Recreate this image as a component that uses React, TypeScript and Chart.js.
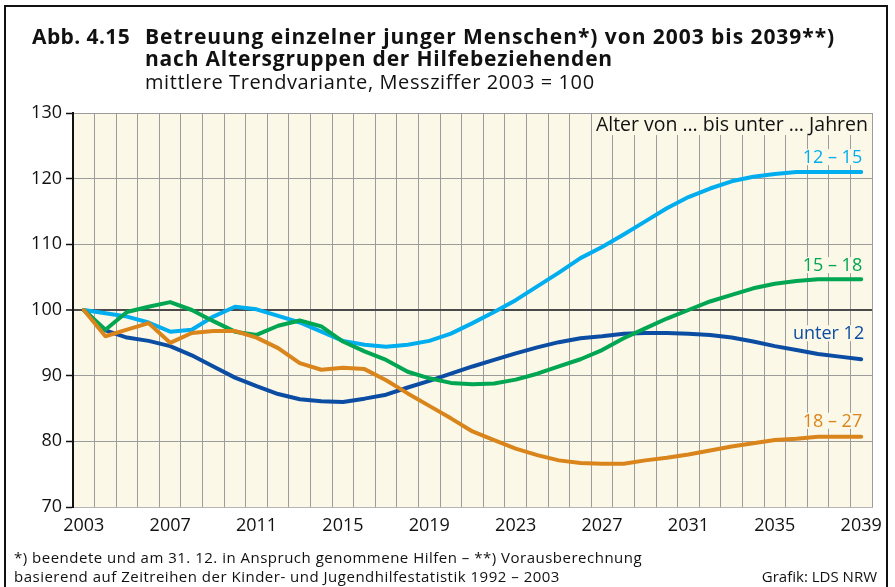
import React, { useEffect, useRef } from "react";
import { Chart, registerables } from "chart.js";

Chart.register(...registerables);

const FONT = "'Open Sans', 'Noto Sans', sans-serif";

// ---- Data ----
const years = [
  "2003", "2004", "2005", "2006", "2007", "2008", "2009", "2010", "2011", "2012",
  "2013", "2014", "2015", "2016", "2017", "2018", "2019", "2020", "2021", "2022",
  "2023", "2024", "2025", "2026", "2027", "2028", "2029", "2030", "2031", "2032",
  "2033", "2034", "2035", "2036", "2037", "2038", "2039",
];
const yTicks = [70, 80, 90, 100, 110, 120, 130];
const xTickLabels = ["2003", "2007", "2011", "2015", "2019", "2023", "2027", "2031", "2035", "2039"];

const unter12 = [
  100, 96.9, 95.8, 95.3, 94.5, 93.1, 91.4, 89.7, 88.4, 87.2,
  86.4, 86.1, 86.0, 86.5, 87.1, 88.2, 89.2, 90.3, 91.4, 92.4,
  93.4, 94.3, 95.1, 95.7, 96.0, 96.4, 96.5, 96.5, 96.4, 96.2,
  95.8, 95.2, 94.5, 93.9, 93.3, 92.9, 92.5,
];
const alter12bis15 = [
  100, 99.5, 99.0, 98.1, 96.7, 97.0, 99.0, 100.5, 100.1, 99.1,
  98.1, 96.7, 95.3, 94.7, 94.4, 94.7, 95.3, 96.4, 98.0, 99.7,
  101.5, 103.6, 105.7, 107.9, 109.6, 111.5, 113.5, 115.5, 117.2, 118.5,
  119.6, 120.3, 120.7, 121.0, 121.0, 121.0, 121.0,
];
const alter15bis18 = [
  100, 97.0, 99.7, 100.5, 101.2, 100.0, 98.3, 96.7, 96.2, 97.6,
  98.4, 97.5, 95.2, 93.7, 92.4, 90.6, 89.6, 88.9, 88.7, 88.8,
  89.4, 90.3, 91.4, 92.5, 93.9, 95.7, 97.2, 98.7, 100.0, 101.3,
  102.3, 103.3, 104.0, 104.4, 104.7, 104.7, 104.7,
];
const alter18bis27 = [
  100, 96.0, 97.0, 98.0, 95.0, 96.5, 96.8, 96.8, 95.8, 94.2,
  91.9, 90.9, 91.2, 91.0, 89.3, 87.3, 85.4, 83.5, 81.5, 80.2,
  78.9, 77.9, 77.1, 76.7, 76.6, 76.6, 77.1, 77.5, 78.0, 78.6,
  79.2, 79.7, 80.2, 80.4, 80.7, 80.7, 80.7,
];

const seriesNames = ["18 – 27", "15 – 18", "12 – 15", "unter 12"];
const legendTitle = "Alter von … bis unter … Jahren";

// ---- Styles ----
const seriesColors = ["#D9851C", "#00A651", "#00AEEF", "#0B4DA2"];
const labelLift = [10, 8, 9, 20];
const labelShiftX = [1, 1, 1, 3];
const plotBg = "#FCF8E8";

const plotBackground = {
  id: "plotBackground",
  beforeDraw(chart: any) {
    const { ctx, chartArea } = chart;
    ctx.save();
    ctx.fillStyle = plotBg;
    ctx.fillRect(chartArea.left, chartArea.top, chartArea.right - chartArea.left, chartArea.bottom - chartArea.top);
    ctx.restore();
  },
};

const seriesLabels = {
  id: "seriesLabels",
  afterDatasetsDraw(chart: any) {
    const { ctx, chartArea } = chart;
    ctx.save();
    ctx.textAlign = "right";
    ctx.textBaseline = "alphabetic";
    // legend header
    ctx.font = `19.5px ${FONT}`;
    const hx = chartArea.right - 4;
    const hy = chartArea.top + 18;
    const hw = ctx.measureText(legendTitle).width;
    ctx.fillStyle = plotBg;
    ctx.fillRect(hx - hw - 3, chartArea.top + 1, hw + 6, 21);
    ctx.fillStyle = "#111";
    ctx.fillText(legendTitle, hx, hy);

    ctx.font = `18px ${FONT}`;
    chart.data.datasets.forEach((ds: any, i: number) => {
      const meta = chart.getDatasetMeta(i);
      const pts = meta.data;
      const last = pts[pts.length - 1];
      const x = last.x + labelShiftX[i];
      const y = last.y - labelLift[i];
      const w = ctx.measureText(ds.label).width;
      ctx.fillStyle = plotBg;
      ctx.fillRect(x - w - 2, y - 14, w + 4, 16);
      ctx.fillStyle = seriesColors[i];
      ctx.fillText(ds.label, x, y);
    });
    ctx.restore();
  },
};

function ChartCanvas() {
  const ref = useRef<HTMLCanvasElement | null>(null);
  useEffect(() => {
    if (!ref.current) return;
    const series = [alter18bis27, alter15bis18, alter12bis15, unter12];
    const chart = new Chart(ref.current, {
      type: "line",
      data: {
        labels: years,
        datasets: series.map((d, i) => ({
          label: seriesNames[i],
          data: d,
          borderColor: seriesColors[i],
          backgroundColor: seriesColors[i],
          borderWidth: 4,
          pointRadius: 0,
          tension: 0,
          borderCapStyle: "round" as const,
          borderJoinStyle: "round" as const,
          fill: false,
        })),
      },
      options: {
        animation: false,
        responsive: false,
        maintainAspectRatio: false,
        layout: { padding: { left: 13, right: 23, top: 113, bottom: 50 } },
        plugins: {
          legend: { display: false },
          tooltip: { enabled: false },
          title: { display: false },
        },
        scales: {
          x: {
            type: "category",
            offset: true,
            grid: {
              offset: true,
              drawTicks: false,
              color: (c: any) => (c.index === 0 ? "rgba(0,0,0,0)" : "#9c9c9c"),
              lineWidth: 1,
            },
            border: { display: true, color: "#b5b5b5", width: 1 },
            ticks: {
              autoSkip: false,
              maxRotation: 0,
              minRotation: 0,
              padding: 8,
              color: "#111",
              font: { family: FONT, size: 18 },
              callback: (_v: any, i: number) => (xTickLabels.includes(years[i]) ? years[i] : ""),
            },
            afterFit: (s: any) => {
              s.height = 30;
            },
          },
          y: {
            min: yTicks[0],
            max: yTicks[yTicks.length - 1],
            afterBuildTicks: (s: any) => {
              s.ticks = yTicks.map((v) => ({ value: v }));
            },
            grid: {
              color: (c: any) => (c.tick && c.tick.value === 100 ? "#4a4a4a" : "#9c9c9c"),
              lineWidth: (c: any) => (c.tick && c.tick.value === 100 ? 2 : 1),
              tickLength: 7,
              tickColor: "#111",
              tickWidth: 1.5,
            },
            border: { display: true, color: "#111", width: 2 },
            ticks: {
              padding: 4,
              color: "#111",
              font: { family: FONT, size: 18 },
            },
            afterFit: (s: any) => {
              s.width = 60;
            },
          },
        },
      },
      plugins: [plotBackground, seriesLabels],
    });
    return () => chart.destroy();
  }, []);
  return (
    <canvas
      ref={ref}
      width={895}
      height={587}
      style={{ position: "absolute", left: 0, top: 0, width: 895, height: 587 }}
    />
  );
}

function Txt(props: {
  x: number;
  base: number;
  size: number;
  bold?: boolean;
  children: any;
  right?: boolean;
  spacing?: number;
}) {
  const top = props.base - props.size * 0.888;
  const style: any = {
    position: "absolute",
    top,
    fontSize: props.size,
    lineHeight: `${props.size}px`,
    fontWeight: props.bold ? 700 : 400,
    whiteSpace: "nowrap",
    letterSpacing: props.spacing ? `${props.spacing}px` : "normal",
    color: "#111",
  };
  if (props.right) style.right = 895 - props.x;
  else style.left = props.x;
  return <div style={style}>{props.children}</div>;
}

export default function App() {
  return (
    <div
      style={{
        position: "absolute",
        left: 0,
        top: 0,
        width: 895,
        height: 587,
        overflow: "hidden",
        background: "#fff",
        fontFamily: FONT,
      }}
    >
      <ChartCanvas />
      <div
        style={{
          position: "absolute",
          left: 4,
          top: 5,
          width: 880,
          height: 620,
          border: "2px solid #111",
          pointerEvents: "none",
        }}
      />
      <Txt x={32} base={45} size={21} bold spacing={0.4}>
        Abb. 4.15
      </Txt>
      <Txt x={145} base={45} size={21} bold spacing={0.95}>
        Betreuung einzelner junger Menschen*) von 2003 bis 2039**)
      </Txt>
      <Txt x={145} base={67} size={21} bold spacing={0.8}>
        nach Altersgruppen der Hilfebeziehenden
      </Txt>
      <Txt x={145} base={90} size={20} spacing={0.6}>
        mittlere Trendvariante, Messziffer 2003 = 100
      </Txt>
      <Txt x={14} base={563} size={15} spacing={0.5}>
        *) beendete und am 31. 12. in Anspruch genommene Hilfen – **) Vorausberechnung
      </Txt>
      <Txt x={14} base={582} size={15} spacing={0.5}>
        basierend auf Zeitreihen der Kinder- und Jugendhilfestatistik 1992 – 2003
      </Txt>
      <Txt x={877} base={582} size={15} right>
        Grafik: LDS NRW
      </Txt>
    </div>
  );
}
